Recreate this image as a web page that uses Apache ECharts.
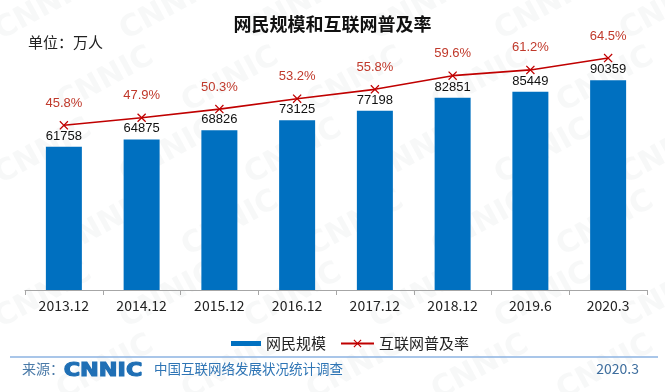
<!DOCTYPE html>
<html>
<head>
<meta charset="utf-8">
<script src="https://cdn.jsdelivr.net/npm/echarts@6/dist/echarts.min.js"></script>
<style>html,body{margin:0;padding:0;background:#fff}#c{width:665px;height:392px}</style>
</head>
<body>
<div id="c"></div>
<script>
const categories = ['2013.12','2014.12','2015.12','2016.12','2017.12','2018.12','2019.6','2020.3'];
const netizens = [61758, 64875, 68826, 73125, 77198, 82851, 85449, 90359];
const penetration = [45.8, 47.9, 50.3, 53.2, 55.8, 59.6, 61.2, 64.5];
const seriesNames = ['网民规模', '互联网普及率'];

const chart = echarts.init(document.getElementById('c'), null, {renderer: 'canvas'});
const FONT = '"Noto Sans CJK SC", "Noto Sans", sans-serif';
const NUMFONT = '"Liberation Sans", Arial, sans-serif';
const XMARK = 'path://M1,0 L5,4 L9,0 L10,1 L6,5 L10,9 L9,10 L5,6 L1,10 L0,9 L4,5 L0,1 Z';

const wm = [];
for (let r = 0; r < 6; r++) {
  for (let c = 0; c < 6; c++) {
    wm.push({
      type: 'text', silent: true, z: -10,
      x: c * 125 - 10 + (r % 2) * 62, y: r * 72 + 20,
      rotation: 0.5,
      style: {text: 'CNNIC', font: 'bold 30px "DejaVu Sans"', fill: 'rgba(150,160,170,0.08)'}
    });
  }
}

chart.setOption({
  animation: false,
  backgroundColor: '#fff',
  title: {
    text: '网民规模和互联网普及率',
    left: 'center', top: 10,
    textStyle: {fontFamily: FONT, fontSize: 18, fontWeight: 'bold', color: '#111'}
  },
  grid: {left: 25, right: 18, top: 30, bottom: 102},
  legend: [
    {
      data: [seriesNames[0]], left: 226, top: 331,
      itemWidth: 30, itemHeight: 5, itemGap: 10,
      icon: 'rect',
      textStyle: {fontFamily: FONT, fontSize: 15, color: '#222'}
    },
    {
      data: [seriesNames[1]], left: 335, top: 331,
      itemWidth: 33, itemHeight: 10,
      textStyle: {fontFamily: FONT, fontSize: 15, color: '#222'}
    }
  ],
  xAxis: {
    type: 'category', data: categories,
    axisLine: {lineStyle: {color: '#a6a6a6', width: 1}},
    axisTick: {show: true, length: 5, lineStyle: {color: '#a6a6a6'}},
    axisLabel: {fontFamily: FONT, fontSize: 14, color: '#222', margin: 9}
  },
  yAxis: [
    {type: 'value', min: 0, max: 112000, show: false, splitLine: {show: false}},
    {type: 'value', min: 0, max: 72.3, show: false, splitLine: {show: false}}
  ],
  series: [
    {
      name: seriesNames[0], type: 'bar', data: netizens, barWidth: 36,
      itemStyle: {color: '#0070C0'},
      label: {show: true, position: 'top', distance: 4, fontFamily: NUMFONT, fontSize: 13, color: '#111'}
    },
    {
      name: seriesNames[1], type: 'line', yAxisIndex: 1, data: penetration,
      symbol: XMARK, symbolSize: 9,
      lineStyle: {color: '#C00000', width: 1.6},
      itemStyle: {color: '#C00000'},
      label: {show: true, position: 'top', distance: 11, fontFamily: NUMFONT, fontSize: 13, color: '#C0392B',
        formatter: p => p.value + '%'}
    }
  ],
  graphic: wm.concat([
    {type: 'text', left: 28, top: 35, style: {text: '单位：万人', font: '15px "Noto Sans CJK SC"', fill: '#222'}},
    {type: 'line', shape: {x1: 10, y1: 357, x2: 658, y2: 357}, style: {stroke: '#8DB3E2', lineWidth: 1.5}},
    {type: 'text', left: 22, top: 362, style: {text: '来源：', font: '14px "Noto Sans CJK SC"', fill: '#4a7aa8'}},
    {type: 'text', left: 63, top: 360, scaleX: 1.12, style: {text: 'CNNIC', font: 'bold 20px "DejaVu Sans"', fill: '#1F6FB5', stroke: '#1F6FB5', lineWidth: 1.2}},
    {type: 'text', left: 154, top: 362, style: {text: '中国互联网络发展状况统计调查', font: '13.5px "Noto Sans CJK SC"', fill: '#2F75B5'}},
    {type: 'text', right: 26, top: 362, style: {text: '2020.3', font: '14px "Noto Sans CJK SC"', fill: '#3E6E9E'}}
  ])
});
</script>
</body>
</html>
